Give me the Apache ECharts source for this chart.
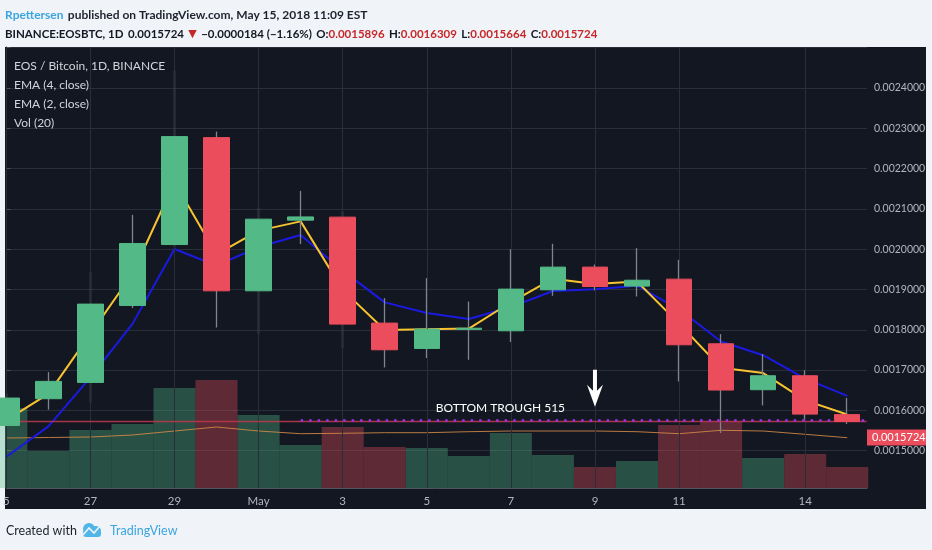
<!DOCTYPE html>
<html><head><meta charset="utf-8">
<script src="https://cdn.jsdelivr.net/npm/echarts@6/dist/echarts.min.js"></script>
<style>
html,body{margin:0;padding:0;background:#f0f3f8;width:932px;height:550px;overflow:hidden;}
#panel{position:absolute;left:5px;top:47px;width:921px;height:462px;background:#131722;}
#chart{position:absolute;left:0;top:0;width:932px;height:550px;}
</style></head><body>
<div id="panel"></div><div id="chart"></div>
<script>
// ---- data ----
const days = ['Apr 25','Apr 26','Apr 27','Apr 28','Apr 29','Apr 30','May 1','May 2','May 3','May 4','May 5',
  'May 6','May 7','May 8','May 9','May 10','May 11','May 12','May 13','May 14','May 15'];
const opens  = [0.0015627,0.0016290,0.0016694,0.0018603,0.0020115,0.0022768,0.0018967,0.0020720,0.0020795,0.0018166,0.0017537,
  0.0018010,0.0017975,0.0018992,0.0019555,0.0019084,0.0019257,0.0017653,0.0016513,0.0016860,0.0015896];
const closes = [0.0016307,0.0016720,0.0018637,0.0020140,0.0022793,0.0018967,0.0020745,0.0020800,0.0018141,0.0017504,0.0018018,
  0.0018040,0.0019009,0.0019555,0.0019074,0.0019230,0.0017628,0.0016505,0.0016860,0.0015908,0.0015724];
const lows   = [0.0015580,0.0016020,0.0016198,0.0018538,0.0020050,0.0018057,0.0017894,0.0020125,0.0017546,0.0017066,0.0017298,
  0.0017256,0.0017695,0.0018843,0.0018980,0.0018826,0.0016718,0.0015439,0.0016123,0.0015769,0.0015664];
const highs  = [0.0016420,0.0016950,0.0019430,0.0020852,0.0024430,0.0022917,0.0021033,0.0021447,0.0020934,0.0018786,0.0019282,
  0.0018702,0.0020000,0.0020133,0.0019620,0.0020026,0.0019736,0.0017894,0.0017398,0.0017000,0.0016309];
const ema2 = [0.0015760,0.0016410,0.0017900,0.0019390,0.0021660,0.0019870,0.0020460,0.0020690,0.0018990,0.0017997,0.0018013,
  0.0018030,0.0018683,0.0019268,0.0019136,0.0019199,0.0018153,0.0017058,0.0016926,0.0016250,0.0015900];
const ema4 = [0.0014850,0.0015604,0.0016818,0.0018147,0.0020004,0.0019590,0.0020054,0.0020352,0.0019467,0.0018680,0.0018416,
  0.0018266,0.0018564,0.0018962,0.0019005,0.0019095,0.0018509,0.0017709,0.0017370,0.0016790,0.0016360];
const volumes = [80,37,58,64,100,108,73,43,61,41,40,32,55,33,21,27,63,66,30,34,21];
const volMA   = [50,50.5,51,53,57,61,57,54.3,54.7,55.3,55.3,56.3,57,57,57,56.3,54.3,57.7,57,53.7,50.3];
const tickDays   = [0,2,4,6,8,10,12,14,16,19];
const tickLabels = ['5','27','29','May','3','5','7','9','11','14'];
const lastPrice = 0.0015724;
const troughLevel = 0.0015765;
const troughStartDay = 7;
const troughText = 'BOTTOM TROUGH 515';
const arrowDay = 14;

// ---- chart ----
const FONT = "Lato, 'Open Sans', sans-serif";
const UP = '#53b987', DOWN = '#eb4d5c';
const X_MAX = 20.47;
const idx = days.map((d,i)=>i);
const wickData = idx.map(i=>[i, opens[i], closes[i], lows[i], highs[i]]);
const bodyData = idx.map(i=>[i, opens[i], closes[i], Math.min(opens[i],closes[i]), Math.max(opens[i],closes[i])]);

const baseGraphic = [
  {id:'lg1', type:'circle', shape:{cx:89, cy:529, r:6}, style:{fill:'#4fb6e6'}},
  {id:'lg2', type:'circle', shape:{cx:96, cy:531, r:5}, style:{fill:'#4fb6e6'}},
  {id:'lg3', type:'rect', shape:{x:83, y:530, width:18, height:7, r:3}, style:{fill:'#4fb6e6'}},
  {id:'lg4', type:'polyline', shape:{points:[[83,535],[89,528],[94,533],[100,526]]}, style:{stroke:'#f0f3f8',lineWidth:1.6,fill:null}}
];

const chart = echarts.init(document.getElementById('chart'), null, {renderer:'canvas'});
chart.setOption({
  animation:false,
  backgroundColor:'transparent',
  textStyle:{fontFamily:FONT},
  title:[
    {left:5, top:6, padding:0, text:'{a|Rpettersen} {b|published on TradingView.com, May 15, 2018 11:09 EST}',
     textStyle:{rich:{a:{color:'#3ba5e0',fontSize:12,fontFamily:FONT},b:{color:'#1e222d',fontSize:12,fontFamily:FONT}}}},
    {left:5, top:25, padding:0, text:'{k|BINANCE:EOSBTC, 1D} {n|0.0015724} {r|▼} {n|−0.0000184 (−1.16%)} {k|O:}{v|0.0015896} {k|H:}{v|0.0016309} {k|L:}{v|0.0015664} {k|C:}{v|0.0015724}',
     textStyle:{rich:{k:{color:'#131722',fontSize:11.5,fontWeight:'bold',fontFamily:FONT},
       n:{color:'#131722',fontSize:11.5,fontFamily:FONT},
       r:{color:'#c62828',fontSize:11,fontFamily:'DejaVu Sans'},
       v:{color:'#c62828',fontSize:11.5,fontFamily:FONT}}}},
    {left:14, top:57, padding:0, text:'EOS / Bitcoin, 1D, BINANCE\nEMA (4, close)\nEMA (2, close)\nVol (20)',
     textStyle:{color:'#d1d4dc',fontSize:12,fontWeight:'normal',lineHeight:19,fontFamily:FONT}},
    {left:6, top:524, padding:0, text:'Created with', textStyle:{color:'#1e222d',fontSize:12.5,fontWeight:'normal',fontFamily:FONT}},
    {left:110, top:524, padding:0, text:'TradingView', textStyle:{color:'#3ba5e0',fontSize:12.5,fontWeight:'normal',fontFamily:FONT}}
  ],
  graphic:baseGraphic,
  grid:{left:6, right:65, top:47, bottom:62},
  xAxis:{
    type:'value', min:0, max:X_MAX, interval:1,
    axisLine:{show:true, lineStyle:{color:'#50535e'}},
    axisTick:{show:false},
    splitLine:{show:false},
    axisLabel:{color:'#b2b5be', fontSize:11.5, margin:7, fontFamily:FONT,
      formatter:v=>{const k=tickDays.indexOf(v); return k>=0?tickLabels[k]:'';}}
  },
  yAxis:[
    {type:'value', position:'right', min:0.0014075, max:0.0025016, splitNumber:10, scale:true,
     axisLine:{show:true, lineStyle:{color:'#50535e'}},
     axisTick:{show:true, length:4, lineStyle:{color:'#50535e'}},
     splitLine:{show:true, lineStyle:{color:'#2a2e39', width:1}},
     axisLabel:{color:'#b2b5be', fontSize:10.5, margin:7, fontFamily:FONT, showMinLabel:false, showMaxLabel:false,
       formatter:v=>(v>0.00145 && v<0.00245)?v.toFixed(7):''}},
    {type:'value', min:0, max:441, show:false, splitLine:{show:false}}
  ],
  series:[
    {name:'grid', type:'line', data:[], z:0, silent:true,
     markLine:{silent:true, symbol:['none','none'], label:{show:false},
       lineStyle:{color:'#2a2e39', type:'solid', width:1},
       data:tickDays.map(d=>({xAxis:d}))}},
    {name:'Vol (20)', type:'bar', yAxisIndex:1, barWidth:42, z:1,
     data:idx.map(i=>[i, volumes[i]]),
     itemStyle:{color:p=>closes[p.dataIndex]>=opens[p.dataIndex]?'rgba(83,185,135,0.35)':'rgba(235,77,92,0.35)'}},
    {name:'Vol MA', type:'line', yAxisIndex:1, z:2, symbol:'none', data:idx.map(i=>[i, volMA[i]]),
     lineStyle:{color:'rgba(214,140,70,0.85)', width:1}},
    {name:'EMA (4, close)', type:'line', z:3, symbol:'none', data:idx.map(i=>[i, ema4[i]]),
     lineStyle:{color:'#1a1ae0', width:2}},
    {name:'EMA (2, close)', type:'line', z:3, symbol:'none', data:idx.map(i=>[i, ema2[i]]),
     lineStyle:{color:'#f7c431', width:2},
     markLine:{silent:true, symbol:['none','none'], label:{show:false},
       data:[[{coord:[0.01, lastPrice]},{coord:[X_MAX-0.01, lastPrice]}]],
       lineStyle:{color:'#b8394b', type:'solid', width:1.3, opacity:0.9}}},
    {name:'wick', type:'candlestick', z:4, barWidth:1, data:wickData,
     itemStyle:{color:'#80848f', color0:'#80848f', borderColor:'#80848f', borderColor0:'#80848f', borderWidth:1.3}},
    {name:'EOS / Bitcoin', type:'candlestick', z:5, barWidth:26, data:bodyData,
     itemStyle:{color:UP, color0:DOWN, borderColor:UP, borderColor0:DOWN, borderWidth:1},
     markLine:{silent:true, symbol:['none','none'],
       data:[
         [{coord:[troughStartDay, troughLevel], lineStyle:{color:'#9f32e8', type:[2.5,6], width:2.5}, label:{show:false}},
          {coord:[X_MAX, troughLevel]}]
       ]},
     markPoint:{silent:true,
       data:[
         {coord:[11.75, 0.0016066], symbol:'rect', symbolSize:1, itemStyle:{color:'rgba(0,0,0,0)'},
          label:{show:true, position:'inside', formatter:troughText, color:'#ffffff', fontSize:12, fontFamily:FONT}},
         {coord:[arrowDay, 0.001655], symbol:'path://M6,0L10,0L10,21L16,15L8,37L0,15L6,21Z', symbolSize:[16,37],
          symbolKeepAspect:false, itemStyle:{color:'#ffffff'}, label:{show:false}}
       ]}}
  ]
});
// last-price tag on the price scale (TradingView shifts it just below the 0.0016 label)
const tagY = chart.convertToPixel({yAxisIndex:0}, 0.0015328);
const axisX = chart.convertToPixel({xAxisIndex:0}, X_MAX);
chart.setOption({graphic: baseGraphic.concat([
  {id:'tag', type:'rect', shape:{x:axisX, y:tagY-8, width:59, height:16}, style:{fill:DOWN}, z:10},
  {id:'tagt', type:'text', x:axisX+5, y:tagY, z:11,
   style:{text:lastPrice.toFixed(7), fill:'#ffffff', font:'11px Lato, sans-serif', verticalAlign:'middle', align:'left'}}
])});
</script></body></html>
